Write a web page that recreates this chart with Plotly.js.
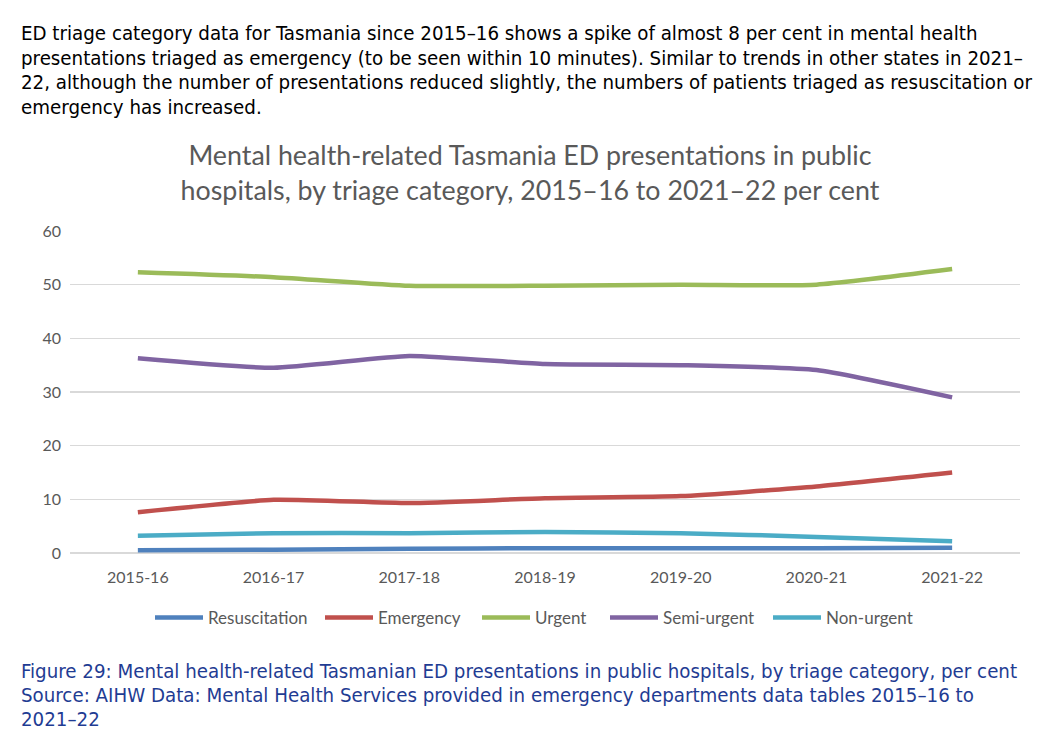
<!DOCTYPE html>
<html>
<head>
<meta charset="utf-8">
<script src="https://cdn.plot.ly/plotly-3.0.1.min.js"></script>
<style>
  html, body { margin: 0; padding: 0; background: #ffffff; }
  #chart { width: 1049px; height: 754px; }
</style>
</head>
<body>
<div id="chart"></div>
<script>
// Financial years shown on the category axis
const years = ['2015-16', '2016-17', '2017-18', '2018-19', '2019-20', '2020-21', '2021-22'];

// Share of mental health-related ED presentations (per cent) by triage category
const resuscitation = [0.5, 0.6, 0.8, 0.9, 0.9, 0.9, 1.0];
const emergency     = [7.6, 9.9, 9.3, 10.2, 10.6, 12.4, 15.0];
const urgent        = [52.3, 51.4, 49.8, 49.8, 50.0, 50.0, 52.9];
const semiUrgent    = [36.3, 34.5, 36.7, 35.2, 35.0, 34.1, 29.0];
const nonUrgent     = [3.2, 3.7, 3.7, 3.9, 3.7, 3.0, 2.2];

const seriesNames = ['Resuscitation', 'Emergency', 'Urgent', 'Semi-urgent', 'Non-urgent'];
const seriesValues = [resuscitation, emergency, urgent, semiUrgent, nonUrgent];
const seriesColors = ['#4f81bd', '#c0504d', '#9bbb59', '#8064a2', '#4bacc6'];

const introLines = [
  'ED triage category data for Tasmania since 2015–16 shows a spike of almost 8 per cent in mental health',
  'presentations triaged as emergency (to be seen within 10 minutes). Similar to trends in other states in 2021–',
  '22, although the number of presentations reduced slightly, the numbers of patients triaged as resuscitation or',
  'emergency has increased.'
];
const captionLines = [
  'Figure 29: Mental health-related Tasmanian ED presentations in public hospitals, by triage category, per cent',
  'Source: AIHW Data: Mental Health Services provided in emergency departments data tables 2015–16 to',
  '2021–22'
];
const chartTitle = 'Mental health-related Tasmania ED presentations in public<br>hospitals, by triage category, 2015–16 to 2021–22 per cent';

// Plot area geometry (pixels)
const W = 1049, H = 754;
const plotLeft = 70, plotRight = 1020, plotTop = 231, plotBottom = 553;
const plotH = plotBottom - plotTop;
const pyToPaper = py => (plotBottom - py) / plotH;
const pxToPaper = px => (px - plotLeft) / (plotRight - plotLeft);

// Left edge (pixels) of each legend entry's line sample
const legendLeft = [160, 330, 487, 615, 778];

const bodyFont = '"DejaVu Sans Condensed", "Liberation Sans Narrow", "DejaVu Sans", sans-serif';
const chartFont = 'Lato, "Open Sans", sans-serif';

const legendId = i => (i === 0 ? 'legend' : 'legend' + (i + 1));

const traces = seriesNames.map((name, i) => ({
  type: 'scatter',
  mode: 'lines',
  name: name,
  x: years,
  y: seriesValues[i],
  legend: legendId(i),
  line: { color: seriesColors[i], width: 4.5, shape: 'spline', smoothing: 0.5 },
  hoverinfo: 'x+y+name'
}));

const annotations = [];
introLines.forEach((t, i) => {
  annotations.push({
    text: t, xref: 'paper', yref: 'paper',
    x: pxToPaper(19), y: pyToPaper(33 + i * 24.7),
    xanchor: 'left', yanchor: 'middle', showarrow: false,
    font: { family: bodyFont, size: 20.3, color: '#000000' }
  });
});
captionLines.forEach((t, i) => {
  annotations.push({
    text: t, xref: 'paper', yref: 'paper',
    x: pxToPaper(19), y: pyToPaper(671 + i * 24),
    xanchor: 'left', yanchor: 'middle', showarrow: false,
    font: { family: bodyFont, size: 20.3, color: '#1f3c93' }
  });
});

const layout = {
  width: W, height: H,
  paper_bgcolor: '#ffffff', plot_bgcolor: '#ffffff',
  margin: { l: plotLeft, r: W - plotRight, t: plotTop, b: H - plotBottom, pad: 0 },
  font: { family: chartFont, color: '#595959' },
  title: {
    text: chartTitle,
    x: 530 / W,
    xanchor: 'center',
    y: 1 - 165 / H, yanchor: 'middle', yref: 'container',
    font: { family: chartFont, size: 26.8, color: '#595959' }
  },
  xaxis: {
    type: 'category',
    range: [-0.5, years.length - 0.5],
    showgrid: false, zeroline: false, showline: false,
    ticks: '', ticklabelstandoff: 13,
    tickfont: { family: chartFont, size: 16, color: '#595959' },
    fixedrange: true
  },
  yaxis: {
    range: [0, 60], dtick: 10, tick0: 0,
    showgrid: true, gridcolor: '#d9d9d9', gridwidth: 1.5,
    zeroline: true, zerolinecolor: '#d9d9d9', zerolinewidth: 1.5,
    showline: false, ticks: '', ticklabelstandoff: 8,
    tickfont: { family: chartFont, size: 16, color: '#595959' },
    fixedrange: true
  },
  showlegend: true,
  annotations: annotations
};

// One legend per series so each entry sits at its own position
legendLeft.forEach((px, i) => {
  layout[legendId(i)] = {
    orientation: 'h',
    x: pxToPaper(px - 10), xanchor: 'left',
    y: pyToPaper(618), yanchor: 'middle',
    font: { family: chartFont, size: 17, color: '#595959' },
    itemwidth: 48, tracegroupgap: 0,
    bgcolor: 'rgba(0,0,0,0)'
  };
});

Plotly.newPlot('chart', traces, layout, { displayModeBar: false, staticPlot: true });
</script>
</body>
</html>
